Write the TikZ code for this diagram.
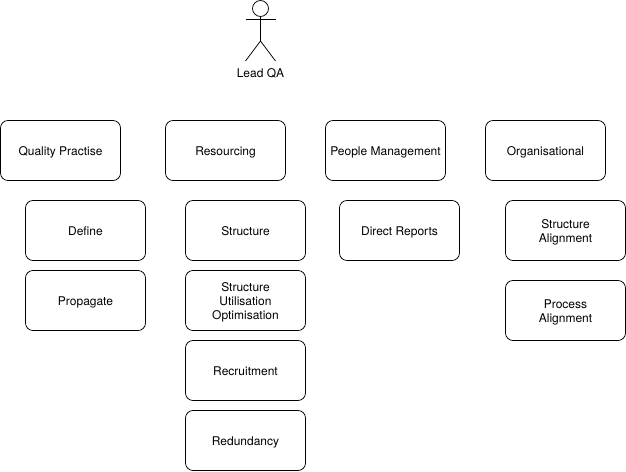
\documentclass[tikz,border=0pt]{standalone}
\usepackage{fontspec}
\setmainfont{TeX Gyre Heros}
\usetikzlibrary{positioning}
\newcommand{\labelstrut}{\vrule width 0pt height 12.1pt depth 3pt}
\tikzset{x=1pt,y=-1pt,
labeltext/.style={font=\fontsize{12}{14}\selectfont,align=center,execute at begin node=\labelstrut,execute at end node=\labelstrut},
itembox/.style={draw,rounded corners=7.5pt,line width=0.75pt,minimum height=60pt,minimum width=120pt,inner sep=0pt,outer sep=0pt,labeltext,anchor=north west},
twolines/.style={itembox,text height=32pt,text depth=8pt},
threelines/.style={itembox,text height=44pt,text depth=6pt},
actorline/.style={line width=0.75pt}}
\begin{document}
\begin{tikzpicture}
\useasboundingbox (0,0) rectangle (626,471);
% actor
\node[draw,circle,actorline,minimum size=16pt,inner sep=0pt,outer sep=0pt] (head) at (260.5,8.5) {};
\coordinate (hip) at (260.5,41);
\coordinate (armL) at (245.5,19.5);
\coordinate (armR) at (275.5,19.5);
\coordinate (footL) at (245.5,61);
\coordinate (footR) at (275.5,61);
\draw[actorline] (head.south)--(hip);
\draw[actorline] (armL)--(armR);
\draw[actorline] (footL)--(hip)--(footR);
\node[labeltext,inner sep=0pt] (lead) at (260.5,73) {Lead QA};
% columns
\node[itembox] (quality) at (0.5,120.5) {Quality Practise};
\node[itembox] (define) at (25.5,200.5) {Define};
\node[itembox] (propagate) at (25.5,270.5) {Propagate};
\node[itembox] (resourcing) at (165.5,120.5) {Resourcing};
\node[itembox] (structure) at (185.5,200.5) {Structure};
\node[threelines] (utilisation) at (185.5,270.5) {Structure\\Utilisation\\Optimisation};
\node[itembox] (recruitment) at (185.5,340.5) {Recruitment};
\node[itembox] (redundancy) at (185.5,410.5) {Redundancy};
\node[itembox] (people) at (325.5,120.5) {People Management};
\node[itembox] (reports) at (339.5,200.5) {Direct Reports};
\node[itembox] (org) at (485.5,120.5) {Organisational};
\node[twolines] (alignS) at (505.5,200.5) {Structure\\Alignment};
\node[twolines] (alignP) at (505.5,280.5) {Process\\Alignment};
\end{tikzpicture}
\end{document}
